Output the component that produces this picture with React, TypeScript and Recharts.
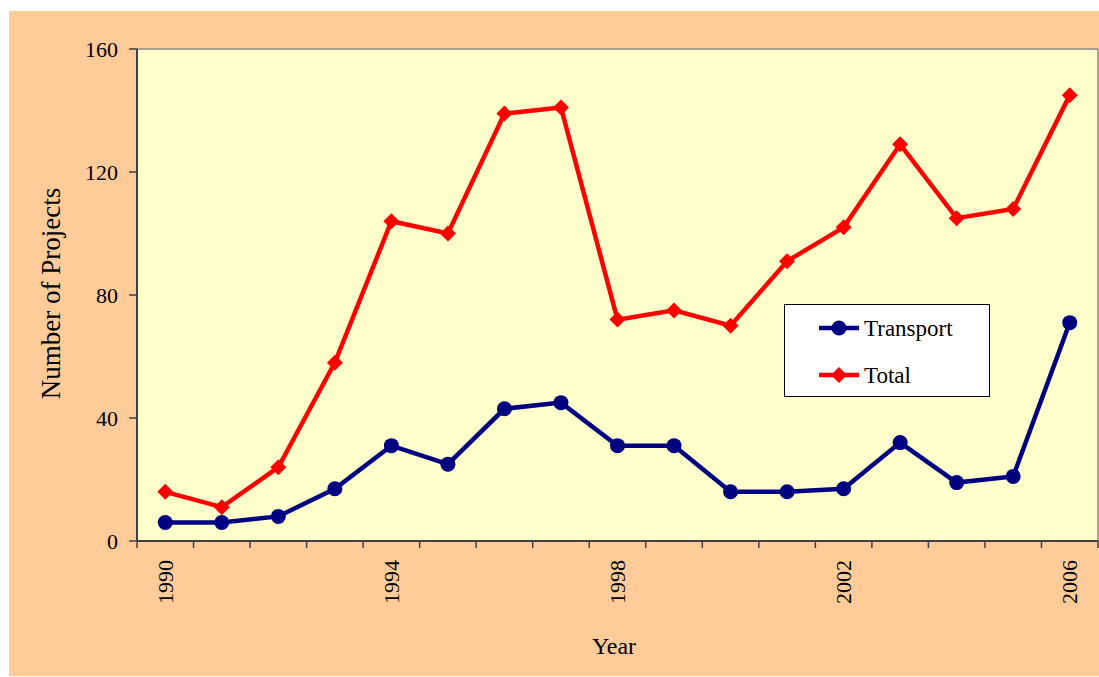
import React from "react";
import { LineChart, Line, XAxis, YAxis, CartesianGrid, Legend, Label } from "recharts";

const YEARS = [1990, 1991, 1992, 1993, 1994, 1995, 1996, 1997, 1998, 1999, 2000, 2001, 2002, 2003, 2004, 2005, 2006];
const TRANSPORT = [6, 6, 8, 17, 31, 25, 43, 45, 31, 31, 16, 16, 17, 32, 19, 21, 71];
const TOTAL = [16, 11, 24, 58, 104, 100, 139, 141, 72, 75, 70, 91, 102, 129, 105, 108, 145];
const LABEL_YEARS = [1990, 1994, 1998, 2002, 2006];
const Y_TICKS = [0, 40, 80, 120, 160];
const SERIES_ORDER = ["transport", "total"];

const BG = "#FFCC99";
const PLOT_BG = "#FFFFCC";
const BLUE = "#000080";
const RED = "#FF0000";
const AXIS = "#404040";
const FONT = "'Liberation Serif', 'Times New Roman', serif";

const data = YEARS.map((year, i) => ({ year, transport: TRANSPORT[i], total: TOTAL[i] }));

// tick marks sit between categories (excel style), labels sit on the categories
const boundaries = [...YEARS.map((y) => y - 0.5), YEARS[YEARS.length - 1] + 0.5];
const xTicks = [...boundaries, ...LABEL_YEARS].sort((a, b) => a - b);

function Diamond({ cx, cy, color, size }: { cx: number; cy: number; color: string; size: number }) {
  return (
    <path
      d={`M${cx},${cy - size}L${cx + size},${cy}L${cx},${cy + size}L${cx - size},${cy}Z`}
      fill={color}
    />
  );
}

function YearTick(props: any) {
  const { x, y, payload } = props;
  const v = payload.value;
  if (!Number.isInteger(v)) {
    return <line x1={x} y1={y} x2={x} y2={y + 7} stroke={AXIS} strokeWidth={1.5} />;
  }
  const ty = y + 19;
  return (
    <text
      x={x}
      y={ty}
      transform={`rotate(-90 ${x} ${ty})`}
      textAnchor="end"
      dy="0.35em"
      fontSize={22}
      fontFamily={FONT}
      fill="#000"
    >
      {v}
    </text>
  );
}

function LegendBox(props: any) {
  const payload = [...(props.payload || [])].sort(
    (a: any, b: any) => SERIES_ORDER.indexOf(a.dataKey) - SERIES_ORDER.indexOf(b.dataKey)
  );
  return (
    <div
      style={{
        width: 206,
        height: 93,
        boxSizing: "border-box",
        border: "1px solid #000",
        background: "#fff",
      }}
    >
      <svg width={204} height={91} style={{ display: "block" }}>
        {payload.map((entry: any, i: number) => {
          const cy = 23 + i * 47;
          const color = entry.color;
          return (
            <g key={entry.value}>
              <line x1={34} x2={74} y1={cy} y2={cy} stroke={color} strokeWidth={4.5} />
              {entry.dataKey === "total" ? (
                <Diamond cx={54} cy={cy} color={color} size={8} />
              ) : (
                <circle cx={54} cy={cy} r={7.5} fill={color} />
              )}
              <text x={79} y={cy} dy="0.35em" fontSize={23} fontFamily={FONT} fill="#000">
                {entry.value}
              </text>
            </g>
          );
        })}
      </svg>
    </div>
  );
}

export default function App() {
  return (
    <div style={{ paddingLeft: 9, paddingTop: 11 }}>
      <style>{"body{margin:0}"}</style>
      <div style={{ width: 1090, height: 665, background: BG }}>
        <LineChart width={1090} height={665} data={data} margin={{ top: 38, right: 1, bottom: 0, left: 0 }}>
          <CartesianGrid
            fill={PLOT_BG}
            stroke="#888888"
            strokeWidth={1.5}
            horizontalCoordinatesGenerator={({ offset }: any) => [offset.top]}
            verticalCoordinatesGenerator={({ offset }: any) => [offset.left + offset.width]}
          />
          <XAxis
            dataKey="year"
            type="number"
            domain={[boundaries[0], boundaries[boundaries.length - 1]]}
            ticks={xTicks}
            interval={0}
            height={135}
            tickSize={0}
            tickMargin={0}
            tickLine={false}
            axisLine={{ stroke: AXIS, strokeWidth: 2 }}
            tick={<YearTick />}
          >
            <Label
              content={({ viewBox }: any) => (
                <text
                  x={viewBox.x + viewBox.width / 2 - 3.5}
                  y={viewBox.y + 113}
                  textAnchor="middle"
                  fontSize={24}
                  fontFamily={FONT}
                  fill="#000"
                >
                  Year
                </text>
              )}
            />
          </XAxis>
          <YAxis
            domain={[0, 160]}
            ticks={Y_TICKS}
            width={128}
            tickSize={8}
            tickMargin={11}
            axisLine={{ stroke: AXIS, strokeWidth: 2 }}
            tickLine={{ stroke: AXIS, strokeWidth: 1.5 }}
            tick={{ fill: "#000", fontSize: 22, fontFamily: FONT }}
          >
            <Label
              content={({ viewBox }: any) => {
                const cx = viewBox.x + 41.5;
                const cy = viewBox.y + viewBox.height / 2 - 1.5;
                return (
                  <text
                    x={cx}
                    y={cy}
                    transform={`rotate(-90 ${cx} ${cy})`}
                    textAnchor="middle"
                    dy="0.35em"
                    fontSize={27}
                    fontFamily={FONT}
                    fill="#000"
                  >
                    Number of Projects
                  </text>
                );
              }}
            />
          </YAxis>
          <Legend
            layout="vertical"
            align="center"
            verticalAlign="middle"
            content={<LegendBox />}
            wrapperStyle={{ left: 775, top: 293, width: 206 }}
          />
          <Line
            type="linear"
            dataKey="transport"
            name="Transport"
            stroke={BLUE}
            strokeWidth={4.5}
            dot={{ r: 7.5, fill: BLUE, stroke: BLUE, strokeWidth: 0 }}
            isAnimationActive={false}
          />
          <Line
            type="linear"
            dataKey="total"
            name="Total"
            stroke={RED}
            strokeWidth={4.5}
            dot={(p: any) => <Diamond key={`d-${p.index}`} cx={p.cx} cy={p.cy} color={RED} size={8} />}
            isAnimationActive={false}
          />
        </LineChart>
      </div>
    </div>
  );
}
